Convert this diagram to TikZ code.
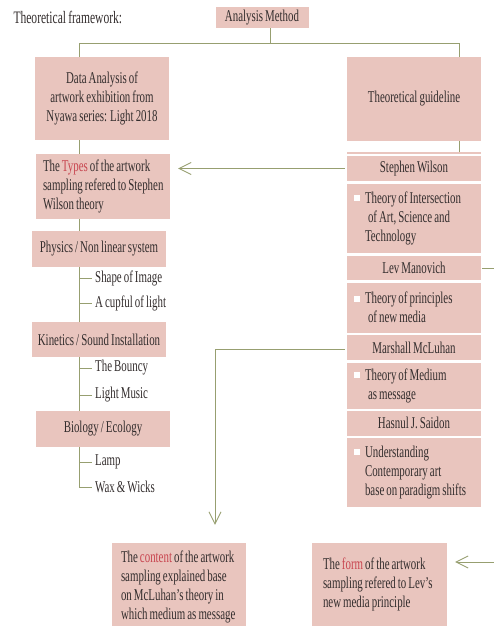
\documentclass[tikz,border=0pt]{standalone}
\usepackage{fontspec}
\setmainfont{Liberation Serif}[FakeStretch=0.66, WordSpace=0.75]
\usetikzlibrary{arrows.meta}
\definecolor{boxpink}{HTML}{E9C5BE}
\definecolor{linegreen}{HTML}{979F70}
\definecolor{inkgray}{HTML}{332D2D}
\definecolor{keyred}{HTML}{C8454F}
\newcommand{\bul}{\llap{\color{white}\raisebox{2pt}{\rule{6pt}{6pt}}\hspace{5pt}}}

\begin{document}
\begin{tikzpicture}[x=1pt, y=-1pt,
   every node/.style={font=\fontsize{16.5}{19}\selectfont, text=inkgray},
   box/.style={fill=boxpink, inner sep=0pt, align=center},
   boxtext/.style={anchor=west, inner sep=0pt, align=left},
   leaf/.style={anchor=west, inner sep=3pt},
   link/.style={draw=linegreen, line width=0.9pt},
   arr/.style={link, -{Straight Barb[length=12pt,width=12pt]}}]
\useasboundingbox (0,0) rectangle (494,626);

\node[anchor=west, font=\fontsize{17.5}{19}\selectfont] (ttl) at (10,17) {Theoretical framework:};
\node[box, minimum width=93pt, minimum height=21pt] (am) at (262,17.5) {Analysis Method};
\node[box, minimum width=134pt, minimum height=83pt] (da) at (102,98.5)
   {Data Analysis of\\artwork exhibition from\\Nyawa series: Light 2018};
\node[box, minimum width=134pt, minimum height=84pt] (tg) at (414,99) {Theoretical guideline};

\node[box, minimum width=134pt, minimum height=65pt] (ty) at (103,186.5) {};
\node[boxtext] (tytx) at ([xshift=7pt]ty.west)
   {The \textcolor{keyred}{Types} of the artwork\\sampling refered to Stephen\\Wilson theory};
\node[box, minimum width=134pt, minimum height=36pt] (ph) at (99,249) {Physics / Non linear system};
\node[leaf] (s1) at (92,278) {Shape of Image};
\node[leaf] (s2) at (92,303) {A cupful of light};
\node[box, minimum width=134pt, minimum height=35pt] (ki) at (99,339.5) {Kinetics / Sound Installation};
\node[leaf] (k1) at (92,368) {The Bouncy};
\node[leaf] (k2) at (92,395) {Light Music};
\node[box, minimum width=134pt, minimum height=36pt] (bi) at (103,429) {Biology / Ecology};
\node[leaf] (b1) at (92,462) {Lamp};
\node[leaf] (b2) at (92,487) {Wax \& Wicks};

\node[box, minimum width=134pt, minimum height=2.5pt] (gstrip) at (414,153) {};
\node[box, minimum width=134pt, minimum height=25pt] (sw) at (414,168.5) {Stephen Wilson};
\node[box, minimum width=134pt, minimum height=69.5pt] (ti) at (414,218.25) {};
\node[boxtext] (titx) at ([xshift=18pt]ti.west) {\bul Theory of Intersection\\\hspace{3pt}of Art, Science and\\Technology};
\node[box, minimum width=134pt, minimum height=24pt] (lm) at (414,268) {Lev Manovich};
\node[box, minimum width=134pt, minimum height=50pt] (tp) at (414,307.5) {};
\node[boxtext] (tptx) at ([xshift=18pt]tp.west) {\bul Theory of principles\\\hspace{3pt}of new media};
\node[box, minimum width=134pt, minimum height=25pt] (mm) at (414,347.5) {Marshall McLuhan};
\node[box, minimum width=134pt, minimum height=46pt] (tm) at (414,385.5) {};
\node[boxtext] (tmtx) at ([xshift=18pt]tm.west) {\bul Theory of Medium\\\hspace{3pt}as message};
\node[box, minimum width=134pt, minimum height=24.5pt] (hs) at (414,423.25) {Hasnul J. Saidon};
\node[box, minimum width=134pt, minimum height=69pt] (un) at (414,472.5) {};
\node[boxtext] (untx) at ([xshift=18pt]un.west) {\bul Understanding\\Contemporary art\\base on paradigm shifts};

\node[box, minimum width=134pt, minimum height=83pt] (ct) at (179,584.5) {};
\node[boxtext] (cttx) at ([xshift=9pt,yshift=-2pt]ct.west)
   {The \textcolor{keyred}{content} of the artwork\\sampling explained base\\on McLuhan's theory in\\which medium as message};
\node[box, minimum width=135pt, minimum height=83pt] (fm) at (379.5,584.5) {};
\node[boxtext] (fmtx) at ([xshift=11pt]fm.west)
   {The \textcolor{keyred}{form} of the artwork\\sampling refered to Lev's\\new media principle};

\coordinate (spine) at (79.5,0);
\coordinate (rdrop) at (459,0);
\coordinate (amdrop) at (270,0);
\coordinate (hbar) at (0,43);
\coordinate (lmout) at (494,268);
\coordinate (fmin) at (494,562);

\draw[link] (am.south -| amdrop) -- (hbar -| amdrop);
\draw[link] (da.north -| spine) |- (hbar -| rdrop) -- (tg.north -| rdrop);
\draw[link] (tg.south -| rdrop) -- (gstrip.north -| rdrop);
\draw[link] (da.south -| spine) -- (ty.north -| spine);
\draw[link] (ty.south -| spine) -- (ph.north -| spine);
\draw[link] (ph.south -| spine) -- (ki.north -| spine);
\draw[link] (ki.south -| spine) -- (bi.north -| spine);
\draw[link] (bi.south -| spine) |- (b2.west);
\foreach \lf in {s1,s2,k1,k2,b1} \draw[link] (\lf.west -| spine) -- (\lf.west);

\draw[arr, shorten >=8pt] ([xshift=-2pt]sw.west) -- (sw.west -| ty.east);
\draw[link] ([xshift=1pt]lm.east) -- (lmout);
\draw[arr] ([xshift=-2pt,yshift=-1.5pt]mm.west) -| ([xshift=36pt,yshift=18pt]ct.north);
\draw[arr, shorten >=8pt] (fmin) -- (fmin -| fm.east);
\end{tikzpicture}
\end{document}
